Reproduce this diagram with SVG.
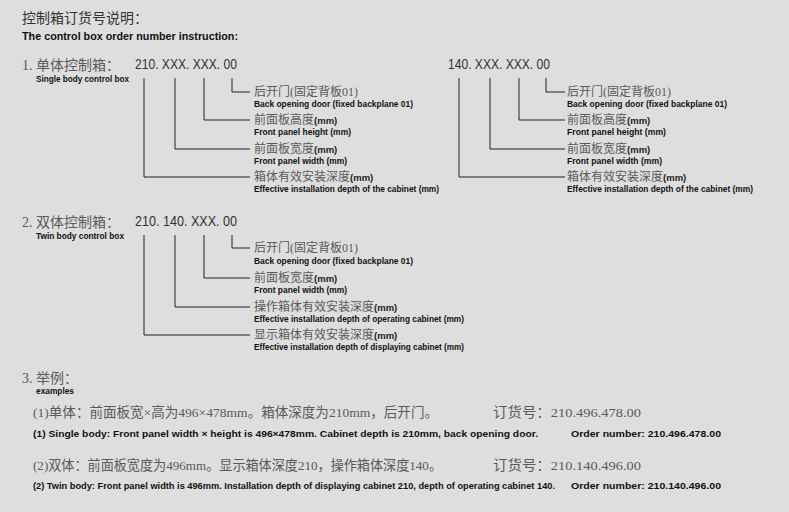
<svg xmlns="http://www.w3.org/2000/svg" width="789" height="512" viewBox="0 0 789 512">
<style>
.bg{fill:#dedede}
.ti{font-family:"Noto Sans CJK SC",sans-serif;font-size:14px;fill:#333}
.en{font-family:"Liberation Sans",Arial,sans-serif;font-weight:bold;fill:#111}
.h1{font-size:11px}
.sm{font-size:9.5px}
.zh{font-family:"Liberation Serif","Noto Sans CJK SC",serif;fill:#5a5a5a}
.sec{font-size:14px}
.ds{font-size:12px}
.mm{font-family:"Liberation Sans",Arial,sans-serif;font-weight:bold;font-size:9.5px;fill:#222}
.num{font-family:"Liberation Sans",Arial,sans-serif;font-size:15px;fill:#333}
.ex{font-size:13.5px}
.conn path{fill:none;stroke:#222;stroke-width:1}
</style>
<rect class="bg" x="0" y="0" width="789" height="512"/>
<g id="title">
<text class="ti" x="22" y="23">控制箱订货号说明：</text>
<text class="en h1" x="22" y="40" textLength="216" lengthAdjust="spacingAndGlyphs">The control box order number instruction:</text>
</g>
<g id="sec1">
<text class="zh sec" x="22" y="70">1. 单体控制箱：</text>
<text class="en sm" x="36" y="82" textLength="93" lengthAdjust="spacingAndGlyphs">Single body control box</text>
</g>
<g id="code1a"><text class="num" x="135" y="69" textLength="102" lengthAdjust="spacingAndGlyphs">210. XXX. XXX. 00</text></g>
<g id="code1b"><text class="num" x="448" y="69" textLength="102" lengthAdjust="spacingAndGlyphs">140. XXX. XXX. 00</text></g>
<g id="conn" class="conn">
<path d="M232 78V92H250"/>
<path d="M204 78V120H250"/>
<path d="M175 78V149H250"/>
<path d="M144 78V177H250"/>
<path d="M546 78V92H565"/>
<path d="M519 78V120H565"/>
<path d="M490 78V149H565"/>
<path d="M459 78V177H565"/>
<path d="M232 235V248H250"/>
<path d="M204 235V278H250"/>
<path d="M175 235V307H250"/>
<path d="M144 235V335H250"/>
</g>
<g id="d1a1">
<text class="zh ds" x="254" y="96" textLength="104" lengthAdjust="spacingAndGlyphs">后开门(固定背板01)</text>
<text class="en sm" x="254" y="107" textLength="159" lengthAdjust="spacingAndGlyphs">Back opening door (fixed backplane 01)</text>
</g>
<g id="d1a2">
<text class="zh ds" x="254" y="124">前面板高度<tspan class="mm">(mm)</tspan></text>
<text class="en sm" x="254" y="135" textLength="97" lengthAdjust="spacingAndGlyphs">Front panel height (mm)</text>
</g>
<g id="d1a3">
<text class="zh ds" x="254" y="153">前面板宽度<tspan class="mm">(mm)</tspan></text>
<text class="en sm" x="254" y="164" textLength="93" lengthAdjust="spacingAndGlyphs">Front panel width (mm)</text>
</g>
<g id="d1a4">
<text class="zh ds" x="254" y="181">箱体有效安装深度<tspan class="mm">(mm)</tspan></text>
<text class="en sm" x="254" y="192" textLength="185" lengthAdjust="spacingAndGlyphs">Effective installation depth of the cabinet (mm)</text>
</g>
<g id="d1b1">
<text class="zh ds" x="567" y="96" textLength="104" lengthAdjust="spacingAndGlyphs">后开门(固定背板01)</text>
<text class="en sm" x="567" y="107" textLength="160" lengthAdjust="spacingAndGlyphs">Back opening door (fixed backplane 01)</text>
</g>
<g id="d1b2">
<text class="zh ds" x="567" y="124">前面板高度<tspan class="mm">(mm)</tspan></text>
<text class="en sm" x="567" y="135" textLength="99" lengthAdjust="spacingAndGlyphs">Front panel height (mm)</text>
</g>
<g id="d1b3">
<text class="zh ds" x="567" y="153">前面板宽度<tspan class="mm">(mm)</tspan></text>
<text class="en sm" x="567" y="164" textLength="95" lengthAdjust="spacingAndGlyphs">Front panel width (mm)</text>
</g>
<g id="d1b4">
<text class="zh ds" x="567" y="181">箱体有效安装深度<tspan class="mm">(mm)</tspan></text>
<text class="en sm" x="567" y="192" textLength="186" lengthAdjust="spacingAndGlyphs">Effective installation depth of the cabinet (mm)</text>
</g>
<g id="sec2">
<text class="zh sec" x="22" y="227">2. 双体控制箱：</text>
<text class="en sm" x="36" y="239" textLength="88" lengthAdjust="spacingAndGlyphs">Twin body control box</text>
</g>
<g id="code2"><text class="num" x="135" y="226" textLength="102" lengthAdjust="spacingAndGlyphs">210. 140. XXX. 00</text></g>
<g id="d21">
<text class="zh ds" x="254" y="252" textLength="104" lengthAdjust="spacingAndGlyphs">后开门(固定背板01)</text>
<text class="en sm" x="254" y="264" textLength="159" lengthAdjust="spacingAndGlyphs">Back opening door (fixed backplane 01)</text>
</g>
<g id="d22">
<text class="zh ds" x="254" y="282">前面板宽度<tspan class="mm">(mm)</tspan></text>
<text class="en sm" x="254" y="293" textLength="93" lengthAdjust="spacingAndGlyphs">Front panel width (mm)</text>
</g>
<g id="d23">
<text class="zh ds" x="254" y="311">操作箱体有效安装深度<tspan class="mm">(mm)</tspan></text>
<text class="en sm" x="254" y="322" textLength="210" lengthAdjust="spacingAndGlyphs">Effective installation depth of operating cabinet (mm)</text>
</g>
<g id="d24">
<text class="zh ds" x="254" y="339">显示箱体有效安装深度<tspan class="mm">(mm)</tspan></text>
<text class="en sm" x="254" y="350" textLength="210" lengthAdjust="spacingAndGlyphs">Effective installation depth of displaying cabinet (mm)</text>
</g>
<g id="sec3">
<text class="zh sec" x="22" y="383">3. 举例：</text>
<text class="en sm" x="36" y="394" textLength="38" lengthAdjust="spacingAndGlyphs">examples</text>
</g>
<g id="ex1">
<text class="zh ex" x="33" y="417" textLength="405" lengthAdjust="spacingAndGlyphs">(1)单体：前面板宽×高为496×478mm。箱体深度为210mm，后开门。</text>
<text class="zh ex" x="493" y="417" textLength="148" lengthAdjust="spacingAndGlyphs">订货号：210.496.478.00</text>
<text class="en sm" x="33" y="437" textLength="505" lengthAdjust="spacingAndGlyphs">(1) Single body: Front panel width × height is 496×478mm. Cabinet depth is 210mm, back opening door.</text>
<text class="en sm" x="571" y="437" textLength="150" lengthAdjust="spacingAndGlyphs">Order number: 210.496.478.00</text>
</g>
<g id="ex2">
<text class="zh ex" x="33" y="470" textLength="409" lengthAdjust="spacingAndGlyphs">(2)双体：前面板宽度为496mm。显示箱体深度210，操作箱体深度140。</text>
<text class="zh ex" x="493" y="470" textLength="148" lengthAdjust="spacingAndGlyphs">订货号：210.140.496.00</text>
<text class="en sm" x="33" y="489" textLength="522" lengthAdjust="spacingAndGlyphs">(2) Twin body: Front panel width is 496mm. Installation depth of displaying cabinet 210, depth of operating cabinet 140.</text>
<text class="en sm" x="571" y="489" textLength="150" lengthAdjust="spacingAndGlyphs">Order number: 210.140.496.00</text>
</g>
</svg>
